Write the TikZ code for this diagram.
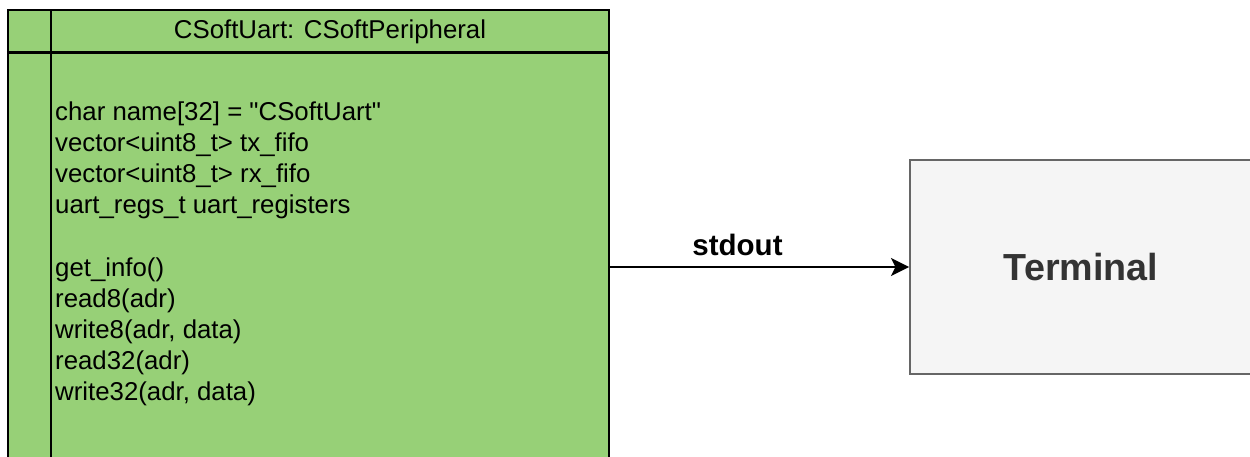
\documentclass[tikz,border=0pt]{standalone}
\usepackage{fontspec}
\setmainfont{Liberation Sans}
\usetikzlibrary{arrows.meta}
\definecolor{classgreen}{HTML}{97D077}
\definecolor{termfill}{HTML}{F5F5F5}
\definecolor{termline}{HTML}{666666}
\definecolor{termtext}{HTML}{333333}
% straight double quote, taken as a glyph so no text mapping curls it
\newcommand{\sq}{\XeTeXglyph\XeTeXglyphindex"quotedbl"\relax}
\tikzset{
  classbox/.style={draw=black, line width=2.5pt, fill=classgreen, rectangle,
    minimum width=601pt, minimum height=514pt, inner sep=0pt},
  divider/.style={line width=2.5pt, draw=black},
  member/.style={anchor=base west, inner sep=0pt, font=\fontsize{25.8pt}{31pt}\selectfont},
  titletext/.style={anchor=base, inner sep=0pt, font=\fontsize{25.8pt}{31pt}\selectfont},
  termbox/.style={draw=termline, line width=2pt, fill=termfill, rectangle,
    minimum width=342pt, minimum height=214pt, inner sep=0pt,
    text=termtext, font=\bfseries\fontsize{37.7pt}{45pt}\selectfont},
  flow/.style={line width=2pt, -{Stealth[length=18pt,width=18pt,inset=4.5pt]}},
  flowlabel/.style={anchor=base, inner sep=0pt, font=\bfseries\fontsize{29.5pt}{35pt}\selectfont}
}
\begin{document}
\begin{tikzpicture}[x=1pt, y=-1pt]
  \clip (0,0) rectangle (1250,457);
  \fill[white] (0,0) rectangle (1250,457);

  % class box with its title row and left margin column
  \node[classbox] (uart) at (308.5,267) {};
  \draw[divider] (uart.north west |- 0,52.5) -- (uart.north east |- 0,52.5);
  \draw[divider] (51,10) -- (51,470);
  \node[titletext] (title) at (330,39) {CSoftUart: CSoftPeripheral};

  % attributes and methods
  \node[member] (m1) at (55,121) {char name[32] = \sq CSoftUart\sq};
  \node[member] (m2) at (55,152) {vector<uint8\_t> tx\_fifo};
  \node[member] (m3) at (55,183) {vector<uint8\_t> rx\_fifo};
  \node[member] (m4) at (55,214) {uart\_regs\_t uart\_registers};
  \node[member] (m5) at (55,276) {get\_info()};
  \node[member] (m6) at (55,307) {read8(adr)};
  \node[member] (m7) at (55,338) {write8(adr, data)};
  \node[member] (m8) at (55,369) {read32(adr)};
  \node[member] (m9) at (55,400) {write32(adr, data)};

  % terminal
  \node[termbox] (term) at (1081,267) {Terminal};

  % output stream
  \draw[flow] (uart.east |- term.west) -- (term.west);
  \node[flowlabel] (stdout) at (737.5,255) {stdout};
\end{tikzpicture}
\end{document}
